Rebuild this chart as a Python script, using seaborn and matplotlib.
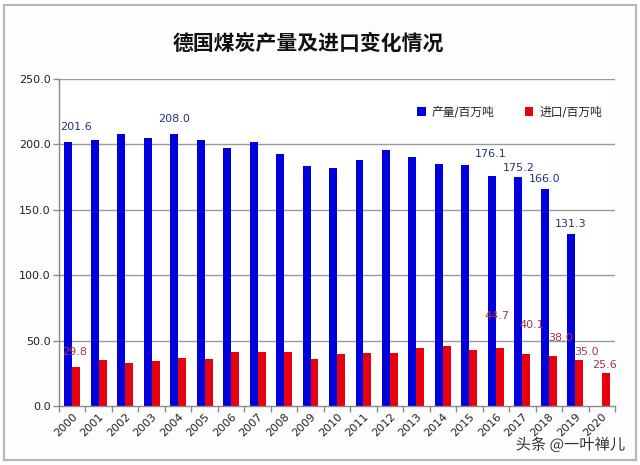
import numpy as np
import pandas as pd
import matplotlib
matplotlib.use("Agg")
import matplotlib.pyplot as plt
import matplotlib.patheffects as pe
from matplotlib.patches import Rectangle
import seaborn as sns

# ---------------- data ----------------
years = [str(y) for y in range(2000, 2021)]
production = [201.6, 203.0, 207.8, 205.0, 208.0, 203.0, 197.5, 201.5, 192.4, 183.2,
              181.9, 188.3, 196.0, 190.3, 185.2, 184.0, 176.1, 175.2, 166.0, 131.3, None]
imports = [29.8, 35.2, 32.9, 34.4, 36.7, 35.9, 41.3, 41.3, 41.3, 35.9,
           40.1, 40.8, 40.8, 44.3, 45.6, 43.1, 44.7, 40.1, 38.0, 35.0, 25.6]
series_names = ["产量/百万吨", "进口/百万吨"]
title = "德国煤炭产量及进口变化情况"
watermark = "头条 @一叶禅儿"
y_ticks = [0, 50, 100, 150, 200, 250]

# which bars carry value labels
prod_labeled = ["2000", "2004", "2016", "2017", "2018", "2019"]
imp_labeled = ["2000", "2016", "2017", "2018", "2019", "2020"]
# label offsets in pixels (dx, dy) relative to bar top centre
prod_offsets = {"2000": (8, 15), "2004": (0, 15), "2016": (-1, 22),
                "2017": (0, 9), "2018": (0, 9.5), "2019": (-1, 10.7)}
imp_offsets = {"2000": (-1.5, 15), "2016": (-2.5, 31.5), "2017": (6, 29),
               "2018": (8, 18.3), "2019": (7, 8), "2020": (-1.5, 8)}

# ---------------- build frame ----------------
rows = []
for y, p, i in zip(years, production, imports):
    if p is not None:
        rows.append({"year": y, "series": series_names[0], "value": p})
    if i is not None:
        rows.append({"year": y, "series": series_names[1], "value": i})
df = pd.DataFrame(rows)

BLUE = "#0000DC"
RED = "#E8000F"

sns.set_theme(style="white")
plt.rcParams["font.family"] = ["DejaVu Sans", "Noto Sans CJK SC"]

fig = plt.figure(figsize=(6.4, 4.65), dpi=100)
fig.patch.set_facecolor("#fdfdfd")
ax = fig.add_axes([59 / 640, 1 - 406 / 465, 556 / 640, 327 / 465])
ax.set_facecolor("#ffffff")

sns.barplot(data=df, x="year", y="value", hue="series", order=years,
            hue_order=series_names, palette=[BLUE, RED], width=0.6,
            saturation=1, ax=ax, errorbar=None, legend=True,
            linewidth=0, edgecolor="none")

ax.set_xlim(-0.5, len(years) - 0.5)
ax.set_ylim(0, 250)
ax.set_yticks(y_ticks)
ax.set_yticklabels([f"{v:.1f}" for v in y_ticks], fontsize=8, color="#222222")
ax.set_xlabel("")
ax.set_ylabel("")

# grid lines
for v in y_ticks[1:]:
    ax.axhline(v, color="#9a9a9a", lw=1, zorder=0)
ax.set_axisbelow(True)

# spines
for s in ["top", "right"]:
    ax.spines[s].set_visible(False)
for s in ["left", "bottom"]:
    ax.spines[s].set_color("#8a8a8a")
    ax.spines[s].set_linewidth(1)

# x ticks: labels at centres, marks at boundaries
ax.set_xticks(range(len(years)))
ax.set_xticklabels(years, rotation=45, ha="right", va="top",
                   rotation_mode="anchor", fontsize=8, color="#222222")
ax.tick_params(axis="x", which="major", length=0, pad=4)
ax.set_xticks(np.arange(-0.5, len(years), 1), minor=True)
ax.tick_params(axis="x", which="minor", length=4, color="#8a8a8a", width=1,
               bottom=True)
ax.tick_params(axis="y", which="major", length=4, color="#8a8a8a", width=1,
               left=True, pad=2)

# value labels
label_specs = [
    (ax.containers[0], prod_labeled, prod_offsets, "#26337a"),
    (ax.containers[1], imp_labeled, imp_offsets, "#a83640"),
]
for cont, labeled, offs, col in label_specs:
    for bar in cont:
        h = bar.get_height()
        if np.isnan(h):
            continue
        cx = bar.get_x() + bar.get_width() / 2
        idx = int(round(cx))
        yr = years[idx]
        if yr in labeled:
            dx, dy = offs[yr]
            ax.annotate(f"{h:.1f}", xy=(cx, h), xytext=(dx, dy),
                        textcoords="offset pixels", ha="center", va="center",
                        fontsize=8, color=col)

# legend
leg = ax.legend(loc="center right", bbox_to_anchor=(0.985, 0.899), ncol=2,
                frameon=False, fontsize=8.5, handlelength=0.7, handleheight=0.7,
                handletextpad=0.5, columnspacing=2.6, borderaxespad=0)

# title
fig.text(308 / 640, 1 - 43 / 465, title, ha="center", va="center",
         fontsize=15, fontweight="bold", family=["Noto Sans CJK SC"],
         color="#111111")

# watermark
fig.text(625 / 640, 1 - 445 / 465, watermark, ha="right", va="center",
         fontsize=11, family=["Noto Sans CJK SC", "DejaVu Sans"],
         color="#333333",
         path_effects=[pe.withStroke(linewidth=2, foreground="white")])

# figure frame
fig.patches.append(Rectangle((4 / 640, 5 / 465), 632 / 640, 455 / 465,
                             transform=fig.transFigure, fill=False,
                             edgecolor="#b5b5b5", lw=1.5, zorder=0))

fig.savefig("out.png", dpi=100, facecolor=fig.get_facecolor())
